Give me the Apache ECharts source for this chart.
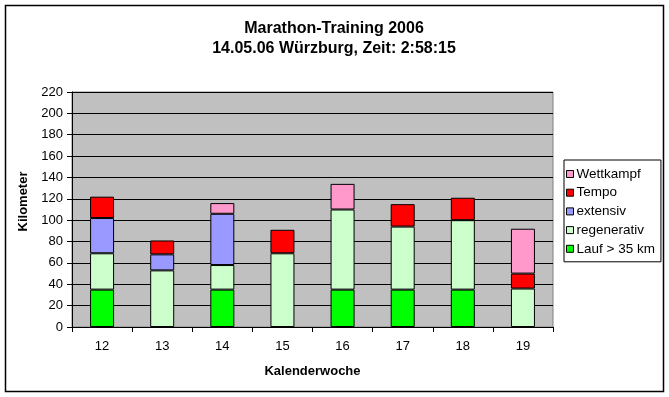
<!DOCTYPE html>
<html>
<head>
<meta charset="utf-8">
<script src="https://cdn.jsdelivr.net/npm/echarts@6/dist/echarts.min.js"></script>
<style>html,body{margin:0;padding:0;background:#fff}#c{width:669px;height:397px}</style>
</head>
<body>
<div id="c"></div>
<script>
const categories = ['12', '13', '14', '15', '16', '17', '18', '19'];
const lauf35 = [35, 0, 35, 0, 35, 35, 35, 0];
const regenerativ = [34, 53, 23, 69, 75, 59, 65, 36];
const extensiv = [33, 15, 48, 0, 0, 0, 0, 0];
const tempo = [20, 13, 0, 22, 0, 21, 21, 14];
const wettkampf = [0, 0, 10, 0, 24, 0, 0, 42];
const yTicks = [0, 20, 40, 60, 80, 100, 120, 140, 160, 180, 200, 220];

const chart = echarts.init(document.getElementById('c'));
const font = 'Arial, "Liberation Sans", sans-serif';
function s(name, data, color) {
  return {
    name: name, type: 'bar', stack: 'km',
    data: data.map(v => v === 0 ? '-' : v), barWidth: 24,
    itemStyle: { color: color, borderColor: '#000', borderWidth: 1 },
    emphasis: { disabled: true }
  };
}
chart.setOption({
  animation: false,
  textStyle: { fontFamily: font },
  title: {
    text: 'Marathon-Training 2006\n14.05.06 Würzburg, Zeit: 2:58:15',
    left: 329, top: 14, textAlign: 'center',
    textStyle: { fontSize: 16, fontWeight: 'bold', color: '#000', lineHeight: 20, fontFamily: font }
  },
  graphic: [{
    type: 'rect', shape: { x: 5.5, y: 5.5, width: 658, height: 386 },
    style: { fill: 'none', stroke: '#000', lineWidth: 1.5 }, silent: true
  }],
  legend: {
    data: ['Wettkampf', 'Tempo', 'extensiv', 'regenerativ', 'Lauf > 35 km'],
    orient: 'vertical', left: 564, top: 160,
    padding: [7, 6, 6, 2], itemGap: 4.7,
    icon: 'rect', itemWidth: 7, itemHeight: 7,
    borderColor: '#000', borderWidth: 1, backgroundColor: '#fff',
    textStyle: { fontSize: 13.5, color: '#000', fontFamily: font, padding: [0, 0, 0, -2] },
    itemStyle: { borderColor: '#000', borderWidth: 1 },
    selectedMode: false
  },
  grid: {
    left: 72, top: 92, width: 481, height: 235,
    show: true, backgroundColor: '#c0c0c0', borderColor: '#808080', borderWidth: 1
  },
  xAxis: {
    type: 'category', data: categories,
    name: 'Kalenderwoche', nameLocation: 'middle', nameGap: 38,
    nameTextStyle: { fontSize: 13, fontWeight: 'bold', color: '#000', fontFamily: font },
    axisLine: { lineStyle: { color: '#000' } },
    axisTick: { show: true, length: 5, lineStyle: { color: '#000' } },
    axisLabel: { fontSize: 13, color: '#000', margin: 13, fontFamily: font }
  },
  yAxis: {
    type: 'value', min: yTicks[0], max: yTicks[yTicks.length - 1], interval: 20,
    name: 'Kilometer', nameLocation: 'middle', nameGap: 39, nameRotate: 90,
    nameTextStyle: { fontSize: 13, fontWeight: 'bold', color: '#000', fontFamily: font, padding: [0, 0, 0, 16] },
    axisLine: { show: true, lineStyle: { color: '#000' } },
    axisTick: { show: true, length: 5, lineStyle: { color: '#000' } },
    axisLabel: { fontSize: 13, color: '#000', margin: 9, fontFamily: font },
    splitLine: { show: true, lineStyle: { color: '#000', width: 1 } }
  },
  series: [
    s('Lauf > 35 km', lauf35, '#00ff00'),
    s('regenerativ', regenerativ, '#ccffcc'),
    s('extensiv', extensiv, '#9999ff'),
    s('Tempo', tempo, '#ff0000'),
    s('Wettkampf', wettkampf, '#ff99cc')
  ]
});
</script>
</body>
</html>
